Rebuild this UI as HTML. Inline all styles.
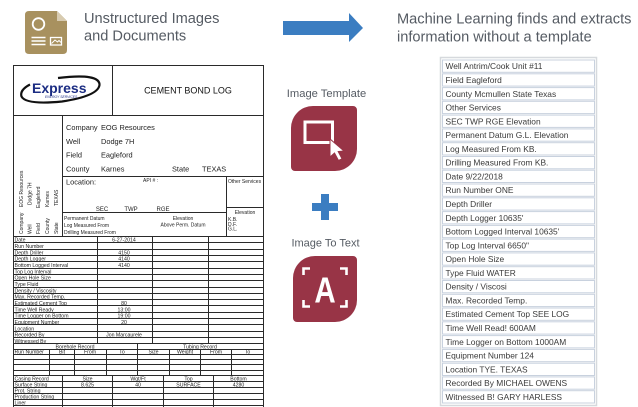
<!DOCTYPE html>
<html><head><meta charset="utf-8">
<style>
html,body{margin:0;padding:0;background:#fff;}
svg{display:block;}
text{font-family:"Liberation Sans",Arial,sans-serif;}
</style></head>
<body>
<svg width="638" height="407" viewBox="0 0 638 407" xmlns="http://www.w3.org/2000/svg">
<rect width="638" height="407" fill="#fff"/>

<!-- Doc icon -->
<path d="M29 11 H57 L67 21 V50 Q67 54 63 54 H29 Q25 54 25 50 V15 Q25 11 29 11 Z" fill="#a8915f"/>
<path d="M57 11 V21 H67 Z" fill="#d8cbb0"/>
<circle cx="38.5" cy="24" r="5.8" fill="none" stroke="#fff" stroke-width="1.8"/>
<line x1="31.5" y1="37.5" x2="45.5" y2="37.5" stroke="#fff" stroke-width="1.5"/>
<line x1="31.5" y1="41" x2="45.5" y2="41" stroke="#fff" stroke-width="1.5"/>
<line x1="31.5" y1="44.5" x2="45.5" y2="44.5" stroke="#fff" stroke-width="1.5"/>
<rect x="50.5" y="37.5" width="11" height="7.5" fill="none" stroke="#fff" stroke-width="1.3"/>
<path d="M51.5 43.5 L55 40 L57.5 42 L59 40.5 L61 42.5" fill="none" stroke="#fff" stroke-width="1"/>

<!-- Titles -->
<text x="84" y="23" font-size="14.6" fill="#555b63">Unstructured Images</text>
<text x="84" y="40.5" font-size="14.6" fill="#555b63">and Documents</text>
<text x="397" y="23.5" font-size="14.6" fill="#555b63">Machine Learning finds and extracts</text>
<text x="397" y="41.5" font-size="14.6" fill="#555b63">information without a template</text>

<!-- Arrow -->
<polygon points="283,21 349,21 349,13 363,28 349,42 349,35 283,35" fill="#3b7dc1"/>

<!-- Document -->
<g stroke="#2a2a2a" stroke-width="1" fill="none">
<rect x="13.5" y="65.5" width="250" height="350"/>
<line x1="13" y1="115.5" x2="264" y2="115.5"/>
<line x1="112.5" y1="65" x2="112.5" y2="115"/>
<line x1="62.5" y1="115" x2="62.5" y2="236"/>
<line x1="62" y1="176.5" x2="264" y2="176.5"/>
<line x1="226.5" y1="176" x2="226.5" y2="236"/>
<line x1="62" y1="212.5" x2="226" y2="212.5"/>
<line x1="226" y1="207.5" x2="264" y2="207.5"/>
<!-- data rows -->
<line x1="13" y1="236.5" x2="264" y2="236.5"/>
<line x1="13" y1="242.5" x2="264" y2="242.5"/>
<line x1="13" y1="249.5" x2="264" y2="249.5"/>
<line x1="13" y1="255.5" x2="264" y2="255.5"/>
<line x1="13" y1="261.5" x2="264" y2="261.5"/>
<line x1="13" y1="268.5" x2="264" y2="268.5"/>
<line x1="13" y1="274.5" x2="264" y2="274.5"/>
<line x1="13" y1="280.5" x2="264" y2="280.5"/>
<line x1="13" y1="287.5" x2="264" y2="287.5"/>
<line x1="13" y1="293.5" x2="264" y2="293.5"/>
<line x1="13" y1="299.5" x2="264" y2="299.5"/>
<line x1="13" y1="305.5" x2="264" y2="305.5"/>
<line x1="13" y1="312.5" x2="264" y2="312.5"/>
<line x1="13" y1="318.5" x2="264" y2="318.5"/>
<line x1="13" y1="324.5" x2="264" y2="324.5"/>
<line x1="13" y1="331.5" x2="264" y2="331.5"/>
<line x1="13" y1="337.5" x2="264" y2="337.5"/>
<line x1="13" y1="343.5" x2="264" y2="343.5"/>
<line x1="97.5" y1="236" x2="97.5" y2="343.5"/>
<line x1="152.5" y1="236" x2="152.5" y2="343.5"/>
<line x1="208.5" y1="236" x2="208.5" y2="343.5"/>
<!-- borehole -->
<line x1="13" y1="349.5" x2="264" y2="349.5"/>
<line x1="13" y1="354.5" x2="264" y2="354.5"/>
<line x1="13" y1="359.5" x2="264" y2="359.5"/>
<line x1="13" y1="364.5" x2="264" y2="364.5"/>
<line x1="13" y1="370.5" x2="264" y2="370.5"/>
<line x1="13" y1="375.5" x2="264" y2="375.5"/>
<line x1="137.5" y1="343.5" x2="137.5" y2="375.5"/>
<line x1="49.5" y1="349.5" x2="49.5" y2="375.5"/>
<line x1="74.5" y1="349.5" x2="74.5" y2="375.5"/>
<line x1="106.5" y1="349.5" x2="106.5" y2="375.5"/>
<line x1="169.5" y1="349.5" x2="169.5" y2="375.5"/>
<line x1="200.5" y1="349.5" x2="200.5" y2="375.5"/>
<line x1="231.5" y1="349.5" x2="231.5" y2="375.5"/>
<!-- casing -->
<line x1="13" y1="381.5" x2="264" y2="381.5"/>
<line x1="13" y1="387.5" x2="264" y2="387.5"/>
<line x1="13" y1="393.5" x2="264" y2="393.5"/>
<line x1="13" y1="399.5" x2="264" y2="399.5"/>
<line x1="13" y1="405.5" x2="264" y2="405.5"/>
<line x1="62.5" y1="375.5" x2="62.5" y2="407"/>
<line x1="112.5" y1="375.5" x2="112.5" y2="407"/>
<line x1="163.5" y1="375.5" x2="163.5" y2="407"/>
<line x1="213.5" y1="375.5" x2="213.5" y2="407"/>
</g>

<!-- Express logo -->
<path d="M58 78 Q100 73 99.5 85 Q98 96 62 101.5 Q26 105 21.5 96.5 Q19.5 90 30 84.5" fill="none" stroke="#111" stroke-width="2.2"/>
<text x="32" y="93" font-size="14" font-weight="bold" fill="#1c2d83">Express</text>
<text x="45" y="98" font-size="3.4" font-style="italic" fill="#1c2d83">ENERGY SERVICES</text>
<text x="188" y="93.5" font-size="9" text-anchor="middle" fill="#111">CEMENT BOND LOG</text>

<!-- Company block -->
<g font-size="7.4" fill="#222">
<text x="66" y="130">Company</text><text x="101" y="130">EOG Resources</text>
<text x="66" y="144">Well</text><text x="101" y="144">Dodge 7H</text>
<text x="66" y="157.5">Field</text><text x="101" y="157.5">Eagleford</text>
<text x="66" y="171.5">County</text><text x="101" y="171.5">Karnes</text>
<text x="172" y="171.5">State</text><text x="202" y="171.5">TEXAS</text>
<text x="66" y="184.5">Location:</text>
</g>
<g font-size="5" fill="#222">
<text x="143" y="182">API # :</text>
<text x="228" y="183">Other Services</text>
<text x="245" y="214" text-anchor="middle">Elevation</text>
<text x="228" y="221">K.B.</text>
<text x="228" y="225.8">D.F.</text>
<text x="228" y="230.6">G.L.</text>
<text x="64" y="220">Permanent Datum</text>
<text x="64" y="227">Log Measured From</text>
<text x="64" y="234">Drilling Measured From</text>
<text x="183" y="220" text-anchor="middle">Elevation</text>
<text x="183" y="226.5" text-anchor="middle">Above Perm. Datum</text>
</g>
<g font-size="6" fill="#222" text-anchor="middle">
<text x="102" y="211">SEC</text><text x="131" y="211">TWP</text><text x="163" y="211">RGE</text>
</g>
<!-- rotated left column -->
<g font-size="5" fill="#222">
<text transform="translate(23,234) rotate(-90)">Company</text>
<text transform="translate(31.5,234) rotate(-90)">Well</text>
<text transform="translate(40,234) rotate(-90)">Field</text>
<text transform="translate(49,234) rotate(-90)">County</text>
<text transform="translate(58,234) rotate(-90)">State</text>
<text transform="translate(23,207) rotate(-90)">EOG Resources</text>
<text transform="translate(31.5,205) rotate(-90)">Dodge 7H</text>
<text transform="translate(40,208) rotate(-90)">Eagleford</text>
<text transform="translate(49,207) rotate(-90)">Karnes</text>
<text transform="translate(58,206) rotate(-90)">TEXAS</text>
</g>

<!-- data table text -->
<g font-size="5.2" fill="#222">
<text x="14.5" y="241.5">Date</text>
<text x="14.5" y="247.8">Run Number</text>
<text x="14.5" y="254.5">Depth Driller</text>
<text x="14.5" y="260.5">Depth Logger</text>
<text x="14.5" y="266.8">Bottom Logged Interval</text>
<text x="14.5" y="273.3">Top Log Interval</text>
<text x="14.5" y="279.5">Open Hole Size</text>
<text x="14.5" y="285.8">Type Fluid</text>
<text x="14.5" y="292.3">Density / Viscosity</text>
<text x="14.5" y="298.5">Max. Recorded Temp.</text>
<text x="14.5" y="304.8">Estimated Cement Top</text>
<text x="14.5" y="311.3">Time Well Ready</text>
<text x="14.5" y="317.5">Time Logger on Bottom</text>
<text x="14.5" y="323.8">Equipment Number</text>
<text x="14.5" y="330.3">Location</text>
<text x="14.5" y="336.5">Recorded By</text>
<text x="14.5" y="342.8">Witnessed By</text>
</g>
<g font-size="5.2" fill="#222" text-anchor="middle">
<text x="124" y="241.5">6-27-2014</text>
<text x="124" y="254.5">4150</text>
<text x="124" y="260.5">4140</text>
<text x="124" y="266.8">4140</text>
<text x="124" y="304.8">80</text>
<text x="124" y="311.3">13:00</text>
<text x="124" y="317.5">19:00</text>
<text x="124" y="323.8">20</text>
<text x="124" y="336.5">Jon Marcaurele</text>
<text x="75" y="348.3">Borehole Record</text>
<text x="200" y="348.3">Tubing Record</text>
<text x="62" y="353.5">Bit</text>
<text x="90" y="353.5">From</text>
<text x="122" y="353.5">To</text>
<text x="153.5" y="353.5">Size</text>
<text x="185" y="353.5">Weight</text>
<text x="216" y="353.5">From</text>
<text x="247.5" y="353.5">To</text>
<text x="87.5" y="380.5">Size</text>
<text x="138" y="380.5">Wgt/Ft</text>
<text x="188.5" y="380.5">Top</text>
<text x="238.5" y="380.5">Bottom</text>
<text x="87.5" y="386.5">8.625</text>
<text x="138" y="386.5">40</text>
<text x="188.5" y="386.5">SURFACE</text>
<text x="238.5" y="386.5">4280</text>
</g>
<g font-size="5.2" fill="#222">
<text x="14.5" y="353.5">Run Number</text>
<text x="14.5" y="380.5">Casing Record</text>
<text x="14.5" y="386.5">Surface String</text>
<text x="14.5" y="392.5">Prot. String</text>
<text x="14.5" y="398.5">Production String</text>
<text x="14.5" y="404.5">Liner</text>
</g>

<!-- Image Template -->
<text x="326.5" y="97" font-size="11.2" text-anchor="middle" fill="#555b63">Image Template</text>
<path d="M313 106 H353 A4 4 0 0 1 357 110 V149 A22 22 0 0 1 335 171 H295 A4 4 0 0 1 291 167 V128 A22 22 0 0 1 313 106 Z" fill="#983446"/>
<rect x="305" y="122" width="27.5" height="20.5" fill="none" stroke="#fff" stroke-width="3"/>
<polygon points="330,139 330,157 334.5,153 338.5,160.5 342,158.8 338.2,151.5 344,151" fill="#fff" stroke="#983446" stroke-width="1"/>

<!-- Plus -->
<rect x="312" y="203" width="26" height="8" fill="#3b7dc1"/>
<rect x="321" y="194" width="8" height="26" fill="#3b7dc1"/>

<!-- Image To Text -->
<text x="325.5" y="246.5" font-size="11" text-anchor="middle" fill="#555b63">Image To Text</text>
<path d="M315 256 H353 A4 4 0 0 1 357 260 V300 A22 22 0 0 1 335 322 H297 A4 4 0 0 1 293 318 V278 A22 22 0 0 1 315 256 Z" fill="#983446"/>
<g fill="none" stroke="#fff" stroke-width="2.6">
<path d="M303.5 275 V268.5 H310"/>
<path d="M340 268.5 H346.5 V275"/>
<path d="M303.5 300 V306.5 H310"/>
<path d="M340 306.5 H346.5 V300"/>
</g>
<text x="325" y="302.5" font-size="36" font-weight="bold" text-anchor="middle" fill="#fff" transform="translate(325,0) scale(0.82,1) translate(-325,0)">A</text>

<!-- Right list -->
<rect x="440.5" y="57.5" width="156" height="348" fill="#fff" stroke="#d6d9dd" stroke-width="1.5"/>
<g fill="#fff" stroke="#c8d1de" stroke-width="1">
<rect x="442.5" y="60" width="152" height="12.3"/>
<rect x="442.5" y="73.8" width="152" height="12.3"/>
<rect x="442.5" y="87.6" width="152" height="12.3"/>
<rect x="442.5" y="101.3" width="152" height="12.3"/>
<rect x="442.5" y="115.1" width="152" height="12.3"/>
<rect x="442.5" y="128.9" width="152" height="12.3"/>
<rect x="442.5" y="142.7" width="152" height="12.3"/>
<rect x="442.5" y="156.5" width="152" height="12.3"/>
<rect x="442.5" y="170.2" width="152" height="12.3"/>
<rect x="442.5" y="184" width="152" height="12.3"/>
<rect x="442.5" y="197.8" width="152" height="12.3"/>
<rect x="442.5" y="211.6" width="152" height="12.3"/>
<rect x="442.5" y="225.4" width="152" height="12.3"/>
<rect x="442.5" y="239.1" width="152" height="12.3"/>
<rect x="442.5" y="252.9" width="152" height="12.3"/>
<rect x="442.5" y="266.7" width="152" height="12.3"/>
<rect x="442.5" y="280.5" width="152" height="12.3"/>
<rect x="442.5" y="294.3" width="152" height="12.3"/>
<rect x="442.5" y="308" width="152" height="12.3"/>
<rect x="442.5" y="321.8" width="152" height="12.3"/>
<rect x="442.5" y="335.6" width="152" height="12.3"/>
<rect x="442.5" y="349.4" width="152" height="12.3"/>
<rect x="442.5" y="363.2" width="152" height="12.3"/>
<rect x="442.5" y="376.9" width="152" height="12.3"/>
<rect x="442.5" y="390.7" width="152" height="12.3"/>
</g>
<g font-size="8.4" fill="#3a3a3a">
<text x="445.5" y="69.2">Well Antrim/Cook Unit #11</text>
<text x="445.5" y="83">Field Eagleford</text>
<text x="445.5" y="96.8">County Mcmullen State Texas</text>
<text x="445.5" y="110.5">Other Services</text>
<text x="445.5" y="124.3">SEC TWP RGE Elevation</text>
<text x="445.5" y="138.1">Permanent Datum G.L. Elevation</text>
<text x="445.5" y="151.9">Log Measured From KB.</text>
<text x="445.5" y="165.7">Drilling Measured From KB.</text>
<text x="445.5" y="179.4">Date 9/22/2018</text>
<text x="445.5" y="193.2">Run Number ONE</text>
<text x="445.5" y="207">Depth Driller</text>
<text x="445.5" y="220.8">Depth Logger 10635'</text>
<text x="445.5" y="234.6">Bottom Logged Interval 10635'</text>
<text x="445.5" y="248.3">Top Log Interval 6650"</text>
<text x="445.5" y="262.1">Open Hole Size</text>
<text x="445.5" y="275.9">Type Fluid WATER</text>
<text x="445.5" y="289.7">Density / Viscosi</text>
<text x="445.5" y="303.5">Max. Recorded Temp.</text>
<text x="445.5" y="317.2">Estimated Cement Top SEE LOG</text>
<text x="445.5" y="331">Time Well Read! 600AM</text>
<text x="445.5" y="344.8">Time Logger on Bottom 1000AM</text>
<text x="445.5" y="358.6">Equipment Number 124</text>
<text x="445.5" y="372.4">Location TYE. TEXAS</text>
<text x="445.5" y="386.1">Recorded By MICHAEL OWENS</text>
<text x="445.5" y="399.9">Witnessed B! GARY HARLESS</text>
</g>
</svg>
</body></html>
